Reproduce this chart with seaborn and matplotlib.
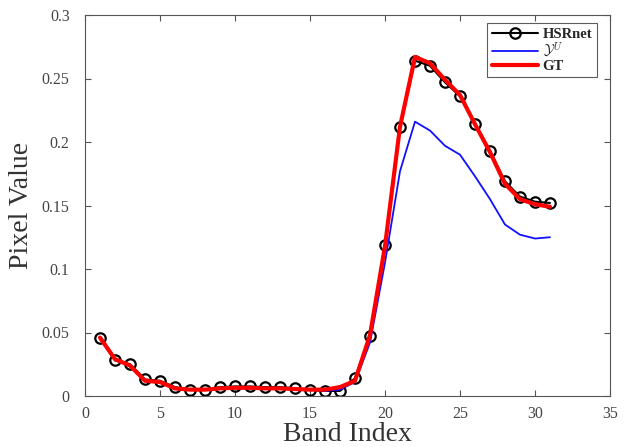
import numpy as np
import pandas as pd
import matplotlib
matplotlib.use("Agg")
import matplotlib.pyplot as plt
import seaborn as sns

bands = list(range(1, 32))

hsrnet = [0.046, 0.028, 0.025, 0.013, 0.012, 0.007, 0.005, 0.005, 0.007, 0.0075,
          0.0075, 0.007, 0.007, 0.006, 0.005, 0.004, 0.004, 0.014, 0.047, 0.119,
          0.212, 0.264, 0.260, 0.247, 0.236, 0.214, 0.193, 0.169, 0.157, 0.153, 0.152]

y_u = [0.045, 0.029, 0.024, 0.012, 0.011, 0.006, 0.005, 0.005, 0.006, 0.006,
       0.006, 0.006, 0.006, 0.005, 0.005, 0.004, 0.005, 0.011, 0.042, 0.105,
       0.177, 0.216, 0.209, 0.197, 0.190, 0.173, 0.155, 0.135, 0.127, 0.124, 0.125]

gt = [0.046, 0.029, 0.024, 0.012, 0.011, 0.006, 0.005, 0.005, 0.006, 0.0065,
      0.0065, 0.006, 0.006, 0.0055, 0.005, 0.005, 0.007, 0.012, 0.048, 0.118,
      0.212, 0.267, 0.262, 0.249, 0.237, 0.214, 0.192, 0.167, 0.155, 0.151, 0.149]

series_names = ["HSRnet", r"$\mathcal{Y}^U$", "GT"]

df = pd.DataFrame({"band": bands, "HSRnet": hsrnet, "YU": y_u, "GT": gt})

sns.set_style("ticks")
plt.rcParams["font.family"] = ["Liberation Serif", "DejaVu Serif"]
plt.rcParams["mathtext.fontset"] = "cm"

fig = plt.figure(figsize=(6.29, 4.47), dpi=100)
ax = fig.add_axes([85 / 629, 1 - 396 / 447, (610 - 85) / 629, (396 - 15) / 447])

sns.lineplot(data=df, x="band", y="HSRnet", ax=ax, color="black", linewidth=1.5,
             marker="o", markersize=7.5, markerfacecolor="none",
             markeredgecolor="black", markeredgewidth=1.6, label=series_names[0])
sns.lineplot(data=df, x="band", y="YU", ax=ax, color="#1010ff", linewidth=1.3,
             label=series_names[1])
sns.lineplot(data=df, x="band", y="GT", ax=ax, color="#ff0000", linewidth=3.0,
             label=series_names[2])

ax.set_xlim(0, 35)
ax.set_ylim(0, 0.3)
ax.set_xticks([0, 5, 10, 15, 20, 25, 30, 35])
ax.set_yticks([0, 0.05, 0.1, 0.15, 0.2, 0.25, 0.3])
ax.set_xticklabels(["0", "5", "10", "15", "20", "25", "30", "35"])
ax.set_yticklabels(["0", "0.05", "0.1", "0.15", "0.2", "0.25", "0.3"])

axis_grey = "#555555"
for s in ax.spines.values():
    s.set_visible(True)
    s.set_color(axis_grey)
    s.set_linewidth(0.8)
ax.tick_params(direction="in", length=4, width=0.8, color=axis_grey,
               labelsize=11.5, labelcolor="#444444", top=True, right=True)
ax.tick_params(axis="y", pad=11)
ax.tick_params(axis="x", pad=7)

ax.set_xlabel("Band Index", fontsize=20, color="#333333", labelpad=0)
ax.set_ylabel("Pixel Value", fontsize=20, color="#333333", labelpad=6)

leg = ax.legend(loc="upper right", bbox_to_anchor=(0.983, 0.99), frameon=True,
                fancybox=False, edgecolor="#333333", fontsize=10.5,
                handlelength=3.2, handletextpad=0.3, borderpad=0.3,
                labelspacing=0.02, borderaxespad=0.3)
leg.get_frame().set_linewidth(0.8)
for t in leg.get_texts():
    t.set_fontweight("bold")

fig.savefig("out.png", dpi=100)
